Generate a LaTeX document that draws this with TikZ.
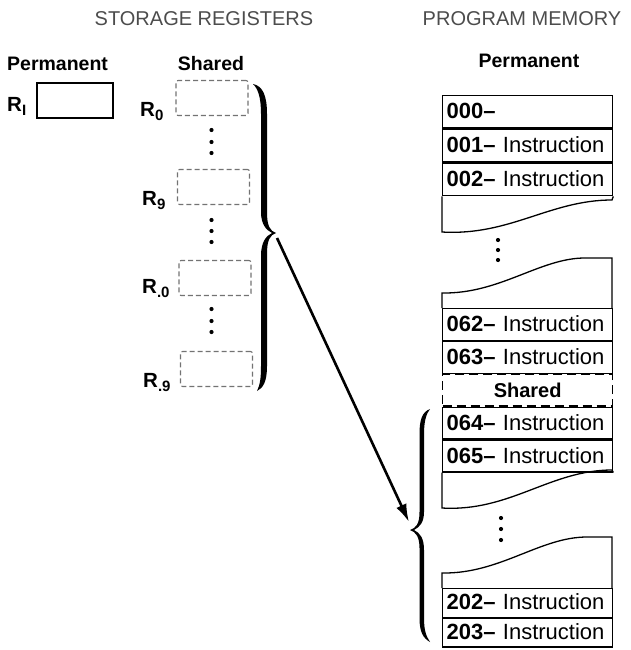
\documentclass[tikz,border=0pt]{standalone}
\usepackage{fontspec}
\setmainfont{Liberation Sans}
\usetikzlibrary{arrows.meta}
\newcommand{\Rlab}[1]{\textbf{R}\raisebox{-4pt}{\fontsize{15}{15}\selectfont\bfseries #1}}
\begin{document}
\begin{tikzpicture}[x=1pt,y=-1pt,
  titletext/.style={anchor=base, inner sep=0pt, text=black!70, font=\fontsize{20}{24}\selectfont},
  headtext/.style={anchor=base, inner sep=0pt, font=\fontsize{19.5}{24}\selectfont\bfseries},
  rlabel/.style={anchor=base west, inner sep=0pt, font=\fontsize{20.5}{24}\selectfont},
  regbox/.style={draw=black!55, dash pattern=on 5pt off 3pt, line width=1.1pt, rounded corners=2pt, minimum width=72pt, minimum height=35pt, inner sep=0pt},
  permbox/.style={draw, line width=1.4pt, minimum width=76pt, minimum height=35pt, inner sep=0pt},
  memrow/.style={draw, line width=1.3pt, anchor=north west, minimum width=170pt, text width=162pt, inner xsep=4pt, inner ysep=0pt, align=left, text height=14pt, text depth=0pt, font=\fontsize{22}{24}\selectfont},
  memline/.style={line width=1.3pt},
  dotmark/.style={fill=black}
]
\useasboundingbox (0,0) rectangle (630,650);

% titles
\node[titletext] (tsr) at (204,26) {STORAGE REGISTERS};
\node[titletext] (tpm) at (522,26) {PROGRAM MEMORY};

% headers
\node[headtext, anchor=base west] (hperm) at (7,71) {Permanent};
\node[headtext] (hshared) at (211,71) {Shared};
\node[headtext] (hpperm) at (529,68) {Permanent};

% permanent register
\node[rlabel] (lRI) at (7,112) {\Rlab{I}};
\node[permbox] (RI) at (75,100.5) {};

% shared registers
\node[regbox] (R0) at (212,98) {};
\node[regbox] (R9) at (213.5,187) {};
\node[regbox] (Rp0) at (215,278) {};
\node[regbox] (Rp9) at (216.5,369) {};
\node[rlabel] (lR0) at (140,117) {\Rlab{0}};
\node[rlabel] (lR9) at (142,205) {\Rlab{9}};
\node[rlabel] (lRp0) at (142,293) {\Rlab{.0}};
\node[rlabel] (lRp9) at (143,387) {\Rlab{.9}};
\foreach \y in {130,142,153,220,231,242,309,321,332} \fill[dotmark] (211.5,\y) circle (2.1pt);

% storage brace
\fill (253,84) .. controls (263,86) and (267,96) .. (267,114) -- (267,212)
  .. controls (267,226) and (270,231) .. (276,233)
  .. controls (270,235) and (267,240) .. (267,254) -- (267,366)
  .. controls (267,382) and (263,388) .. (257,391)
  .. controls (260,385) and (261,378) .. (261,366) -- (261,256)
  .. controls (261,242) and (266,236) .. (272,233)
  .. controls (266,230) and (261,224) .. (261,212) -- (261,114)
  .. controls (261,97) and (258,89) .. (253,84) -- cycle;

% program memory, top part
\node[memrow, minimum height=32.5pt] (m000) at (442,95) {\textbf{000\textendash}};
\node[memrow, minimum height=32.5pt] (m001) at (m000.south west) {\textbf{001\textendash} Instruction};
\node[memrow, minimum height=32.5pt] (m002) at (m001.south west) {\textbf{002\textendash} Instruction};
\coordinate (w1l) at (442,232);
\coordinate (w1r) at (612,200);
\draw[memline] (m002.south west) -- (w1l) .. controls (510,236) and (550,200) .. (w1r) -- (m002.south east);
\foreach \y in {240,250,260} \fill[dotmark] (498,\y) circle (2.1pt);

% program memory, middle part
\coordinate (w2l) at (442,293);
\coordinate (w2r) at (612,258);
\draw[memline] (442,308) -- (w2l) .. controls (500,294) and (540,258) .. (585,258) -- (w2r) -- (612,308);
\node[memrow, minimum height=31.6pt] (m062) at (442,308) {\textbf{062\textendash} Instruction};
\node[memrow, minimum height=31.6pt] (m063) at (m062.south west) {\textbf{063\textendash} Instruction};
\node[memrow, minimum height=31.6pt, dash pattern=on 9pt off 5pt, align=center, font=\fontsize{20}{24}\selectfont\bfseries] (mshared) at (m063.south west) {Shared};
\node[memrow, minimum height=31.6pt] (m064) at (mshared.south west) {\textbf{064\textendash} Instruction};
\node[memrow, minimum height=31.6pt] (m065) at (m064.south west) {\textbf{065\textendash} Instruction};
\coordinate (w3l) at (442,508);
\coordinate (w3r) at (612,470);
\draw[memline] (m065.south west) -- (w3l) .. controls (510,512) and (550,470) .. (w3r) -- (m065.south east);
\foreach \y in {518,529,540} \fill[dotmark] (501,\y) circle (2.1pt);

% program memory, bottom part
\coordinate (w4l) at (442,573);
\coordinate (w4r) at (612,537);
\draw[memline] (442,588) -- (w4l) .. controls (500,574) and (540,537) .. (587,537) -- (w4r) -- (612,588);
\node[memrow, minimum height=28.5pt] (m202) at (442,588) {\textbf{202\textendash} Instruction};
\node[memrow, minimum height=28.5pt] (m203) at (m202.south west) {\textbf{203\textendash} Instruction};

% program brace
\fill (430,409) .. controls (422,412) and (419.5,420) .. (419.5,434) -- (419.5,512)
  .. controls (419.5,524) and (416,528) .. (410,530)
  .. controls (416,532) and (419.5,537) .. (419.5,548) -- (419.5,618)
  .. controls (419.5,632) and (423,638) .. (430,642)
  .. controls (426,636) and (424,630) .. (424,618) -- (424,550)
  .. controls (424,538) and (420,533) .. (414,530)
  .. controls (420,527) and (424,522) .. (424,512) -- (424,434)
  .. controls (424,422) and (426,414) .. (430,409) -- cycle;

% arrow
\coordinate (stip) at (277,238);
\coordinate (ptip) at (409,522);
\draw[line width=2.6pt, -{Latex[length=18pt,width=11pt]}] (stip) -- (ptip);
\end{tikzpicture}
\end{document}
